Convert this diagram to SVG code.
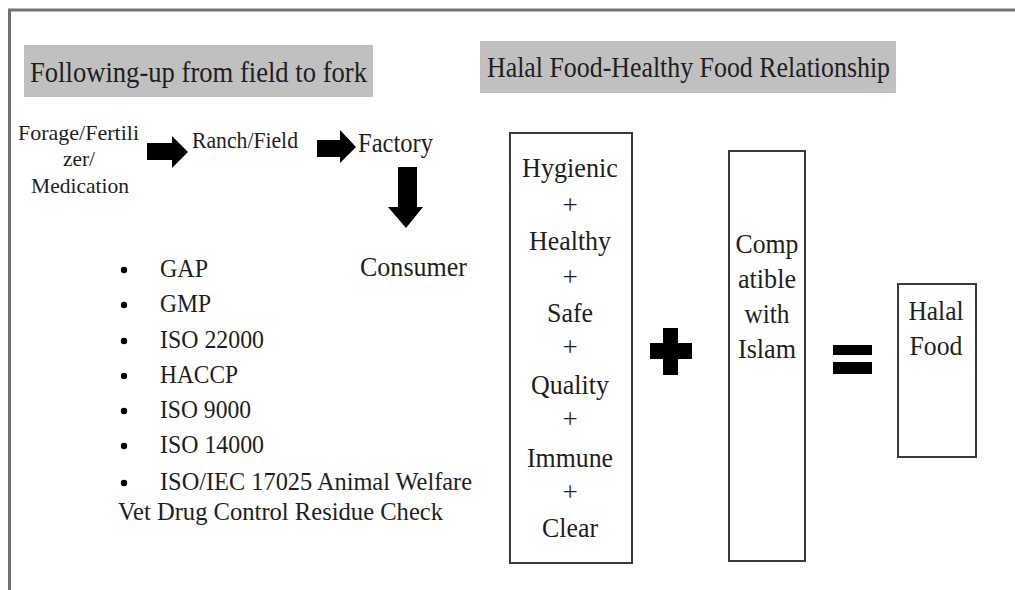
<svg xmlns="http://www.w3.org/2000/svg" width="1015" height="590" viewBox="0 0 1015 590">
<style>
.hdr{fill:#c0c0c0}
.box{fill:#fff;stroke:#3a3a3a;stroke-width:2}
.blk{fill:#000}
</style>
<rect width="1015" height="590" fill="#fff"/>
<path d="M9.5,590 V10 H1015" fill="none" stroke="#707070" stroke-width="3"/>
<g fill="#1e1e1e">
<g id="header-left">
<rect class="hdr" x="24" y="45" width="349" height="52"/>
<text font-family="Liberation Serif" x="30" y="82" font-size="30" textLength="337" lengthAdjust="spacingAndGlyphs">Following-up from field to fork</text>
</g>
<g id="header-right">
<rect class="hdr" x="480" y="41" width="416" height="52"/>
<text font-family="Liberation Serif" x="487" y="77" font-size="30" textLength="403" lengthAdjust="spacingAndGlyphs">Halal Food-Healthy Food Relationship</text>
</g>
<g id="forage">
<text font-family="Liberation Serif" font-size="21" x="18" y="140" textLength="121" lengthAdjust="spacingAndGlyphs">Forage/Fertili</text>
<text font-family="Liberation Serif" font-size="21" x="63" y="166" textLength="32" lengthAdjust="spacingAndGlyphs">zer/</text>
<text font-family="Liberation Serif" font-size="21" x="31" y="193" textLength="98" lengthAdjust="spacingAndGlyphs">Medication</text>
</g>
<g id="ranch"><text font-family="Liberation Serif" x="192" y="148" font-size="24" textLength="106" lengthAdjust="spacingAndGlyphs">Ranch/Field</text></g>
<g id="factory"><text font-family="Liberation Serif" x="358" y="152" font-size="27" textLength="75" lengthAdjust="spacingAndGlyphs">Factory</text></g>
<g id="consumer"><text font-family="Liberation Serif" x="360" y="276" font-size="27" textLength="107" lengthAdjust="spacingAndGlyphs">Consumer</text></g>
<g id="standards">
<g fill="#000">
<circle cx="124" cy="270" r="3.2"/>
<circle cx="124" cy="305" r="3.2"/>
<circle cx="124" cy="341" r="3.2"/>
<circle cx="124" cy="376" r="3.2"/>
<circle cx="124" cy="411" r="3.2"/>
<circle cx="124" cy="446" r="3.2"/>
<circle cx="124" cy="483" r="3.2"/>
</g>
<text font-family="Liberation Serif" font-size="26" x="160" y="277" textLength="48" lengthAdjust="spacingAndGlyphs">GAP</text>
<text font-family="Liberation Serif" font-size="26" x="160" y="312" textLength="51" lengthAdjust="spacingAndGlyphs">GMP</text>
<text font-family="Liberation Serif" font-size="26" x="160" y="348" textLength="104" lengthAdjust="spacingAndGlyphs">ISO 22000</text>
<text font-family="Liberation Serif" font-size="26" x="160" y="383" textLength="78" lengthAdjust="spacingAndGlyphs">HACCP</text>
<text font-family="Liberation Serif" font-size="26" x="160" y="418" textLength="91" lengthAdjust="spacingAndGlyphs">ISO 9000</text>
<text font-family="Liberation Serif" font-size="26" x="160" y="453" textLength="104" lengthAdjust="spacingAndGlyphs">ISO 14000</text>
<text font-family="Liberation Serif" font-size="26" x="160" y="490" textLength="312" lengthAdjust="spacingAndGlyphs">ISO/IEC 17025 Animal Welfare</text>
<text font-family="Liberation Serif" font-size="26" x="118" y="520" textLength="325" lengthAdjust="spacingAndGlyphs">Vet Drug Control Residue Check</text>
</g>
<g id="healthy-box">
<rect class="box" x="510" y="133" width="122" height="430"/>
<text font-family="Liberation Serif" font-size="27" text-anchor="middle" x="570" y="177" textLength="96" lengthAdjust="spacingAndGlyphs">Hygienic</text>
<text font-family="Liberation Serif" font-size="27" text-anchor="middle" x="570" y="214">+</text>
<text font-family="Liberation Serif" font-size="27" text-anchor="middle" x="570" y="250" textLength="82" lengthAdjust="spacingAndGlyphs">Healthy</text>
<text font-family="Liberation Serif" font-size="27" text-anchor="middle" x="570" y="286">+</text>
<text font-family="Liberation Serif" font-size="27" text-anchor="middle" x="570" y="322" textLength="46" lengthAdjust="spacingAndGlyphs">Safe</text>
<text font-family="Liberation Serif" font-size="27" text-anchor="middle" x="570" y="356">+</text>
<text font-family="Liberation Serif" font-size="27" text-anchor="middle" x="570" y="394" textLength="78" lengthAdjust="spacingAndGlyphs">Quality</text>
<text font-family="Liberation Serif" font-size="27" text-anchor="middle" x="570" y="428">+</text>
<text font-family="Liberation Serif" font-size="27" text-anchor="middle" x="570" y="467" textLength="86" lengthAdjust="spacingAndGlyphs">Immune</text>
<text font-family="Liberation Serif" font-size="27" text-anchor="middle" x="570" y="501">+</text>
<text font-family="Liberation Serif" font-size="27" text-anchor="middle" x="570" y="537" textLength="56" lengthAdjust="spacingAndGlyphs">Clear</text>
</g>
<g id="islam-box">
<rect class="box" x="729" y="151" width="76" height="410"/>
<text font-family="Liberation Serif" font-size="27" text-anchor="middle" x="767" y="253" textLength="63" lengthAdjust="spacingAndGlyphs">Comp</text>
<text font-family="Liberation Serif" font-size="27" text-anchor="middle" x="767" y="288" textLength="58" lengthAdjust="spacingAndGlyphs">atible</text>
<text font-family="Liberation Serif" font-size="27" text-anchor="middle" x="767" y="323" textLength="45" lengthAdjust="spacingAndGlyphs">with</text>
<text font-family="Liberation Serif" font-size="27" text-anchor="middle" x="767" y="358" textLength="58" lengthAdjust="spacingAndGlyphs">Islam</text>
</g>
<g id="halal-box">
<rect class="box" x="898" y="284" width="78" height="173"/>
<text font-family="Liberation Serif" font-size="27" text-anchor="middle" x="936" y="320" textLength="55" lengthAdjust="spacingAndGlyphs">Halal</text>
<text font-family="Liberation Serif" font-size="27" text-anchor="middle" x="936" y="355" textLength="53" lengthAdjust="spacingAndGlyphs">Food</text>
</g>
</g>
<g id="connectors">
<polygon class="blk" points="147,143 172,143 172,136 188,152 172,168 172,160 147,160"/>
<polygon class="blk" points="317,140 340,140 340,130 356,147 340,163 340,157 317,157"/>
<polygon class="blk" points="398,167 417,167 417,207 423,207 406,228 388,207 398,207"/>
</g>
<g id="plus-sign">
<polygon class="blk" points="663,328 678,328 678,343 692,343 692,359 678,359 678,375 663,375 663,359 650,359 650,343 663,343"/>
</g>
<g id="equals-sign">
<rect class="blk" x="833" y="345" width="39" height="10"/>
<rect class="blk" x="833" y="362" width="39" height="12"/>
</g>
</svg>
